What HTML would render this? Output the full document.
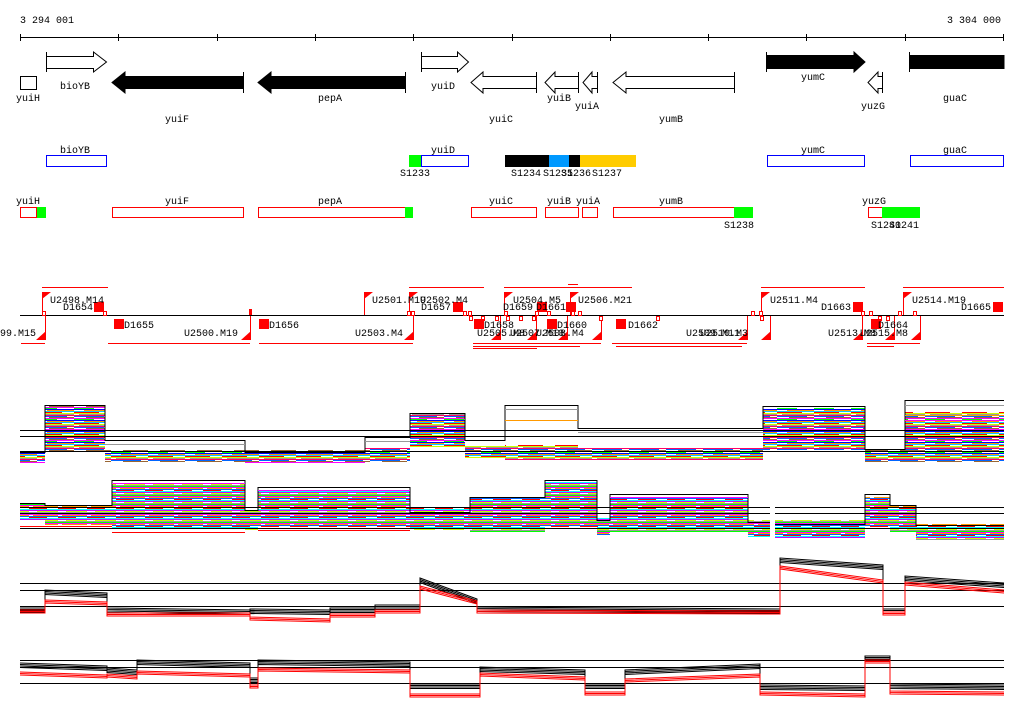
<!DOCTYPE html>
<html><head><meta charset="utf-8"><style>
html,body{margin:0;padding:0;background:#fff;}
svg{display:block;font-family:"Liberation Mono","DejaVu Sans Mono",monospace;font-size:10px;}
</style></head><body>
<svg width="1024" height="714" viewBox="0 0 1024 714" xmlns="http://www.w3.org/2000/svg">
<defs>
<pattern id="pa" patternUnits="userSpaceOnUse" width="37" height="11">
<rect width="37" height="11" fill="#fff"/>
<path d="M0 0.5H37" stroke="#f0f"/><path d="M0 1.5H20" stroke="#0f0"/><path d="M0 2.5H37" stroke="#00f"/>
<path d="M10 3.5H37" stroke="#f90"/><path d="M0 4.5H37" stroke="#0cf"/><path d="M0 5.5H25" stroke="#f00"/>
<path d="M0 6.5H37" stroke="#cf0"/><path d="M5 7.5H37" stroke="#999"/><path d="M0 8.5H37" stroke="#f06"/>
<path d="M0 9.5H30" stroke="#06f"/><path d="M12 10.5H37" stroke="#963"/>
</pattern>
<pattern id="pb" patternUnits="userSpaceOnUse" width="29" height="9">
<rect width="29" height="9" fill="#fff"/>
<path d="M0 0.5H29" stroke="#0f0"/><path d="M0 1.5H29" stroke="#f0f"/><path d="M4 2.5H29" stroke="#f90"/>
<path d="M0 3.5H29" stroke="#06f"/><path d="M0 4.5H18" stroke="#f00"/><path d="M0 5.5H29" stroke="#0ff"/>
<path d="M0 6.5H29" stroke="#c0f"/><path d="M8 7.5H29" stroke="#cf0"/><path d="M0 8.5H29" stroke="#999"/>
</pattern>
</defs>
<rect width="1024" height="714" fill="#fff"/>
<text x="20" y="23">3 294 001</text>
<text x="1001" y="23" text-anchor="end">3 304 000</text>
<g stroke="#000" stroke-width="1">
<line x1="20" y1="37.5" x2="1004" y2="37.5"/>
<line x1="20.5" y1="34" x2="20.5" y2="41"/><line x1="118.5" y1="34" x2="118.5" y2="41"/><line x1="217.5" y1="34" x2="217.5" y2="41"/><line x1="315.5" y1="34" x2="315.5" y2="41"/><line x1="413.5" y1="34" x2="413.5" y2="41"/><line x1="512.5" y1="34" x2="512.5" y2="41"/><line x1="610.5" y1="34" x2="610.5" y2="41"/><line x1="708.5" y1="34" x2="708.5" y2="41"/><line x1="806.5" y1="34" x2="806.5" y2="41"/><line x1="905.5" y1="34" x2="905.5" y2="41"/><line x1="1003.5" y1="34" x2="1003.5" y2="41"/>
</g>
<g stroke="#000" stroke-width="1">
<rect x="20.5" y="76.5" width="16" height="13" fill="#fff"/>
<path d="M46.5 52V72 M46.5 56.5H93.5V52L106.5 62L93.5 72V68.5H46.5" fill="#fff"/>
<path d="M243.5 72V93 M243.5 76.5H125V72L112 82.5L125 93V88.5H243.5Z" fill="#000"/>
<path d="M405.5 72V93 M405.5 76.5H271V72L258 82.5L271 93V88.5H405.5Z" fill="#000"/>
<path d="M421.5 52V72 M421.5 56.5H457.5V52L468.5 62L457.5 72V68.5H421.5" fill="#fff"/>
<path d="M536.5 72V93 M536.5 76.5H483V72L471 82.5L483 93V88.5H536.5" fill="#fff"/>
<path d="M578.5 72V93 M578.5 76.5H555V72L545 82.5L555 93V88.5H578.5" fill="#fff"/>
<path d="M597.5 72V93 M597.5 76.5H592V72L583 82.5L592 93V88.5H597.5" fill="#fff"/>
<path d="M734.5 72V93 M734.5 76.5H626V72L613 82.5L626 93V88.5H734.5" fill="#fff"/>
<path d="M766.5 52V72 M766.5 55.5H854V52L865 62L854 72V68.5H766.5Z" fill="#000"/>
<path d="M882.5 72V93 M882.5 76.5H878V72L868 82.5L878 93V88.5H882.5" fill="#fff"/>
<path d="M909.5 52V72 M909.5 55.5H1004V68.5H909.5Z" fill="#000"/>
</g>
<text x="16" y="101">yuiH</text><text x="60" y="89">bioYB</text><text x="165" y="122">yuiF</text>
<text x="318" y="101">pepA</text><text x="431" y="89">yuiD</text><text x="489" y="122">yuiC</text>
<text x="547" y="101">yuiB</text><text x="575" y="109">yuiA</text><text x="659" y="122">yumB</text>
<text x="801" y="80">yumC</text><text x="861" y="109">yuzG</text><text x="943" y="101">guaC</text>
<text x="60" y="153">bioYB</text><text x="431" y="153">yuiD</text><text x="801" y="153">yumC</text><text x="943" y="153">guaC</text>
<g stroke="#00f" fill="#fff"><rect x="46.5" y="155.5" width="60" height="11"/><rect x="421.5" y="155.5" width="47" height="11"/><rect x="767.5" y="155.5" width="97" height="11"/><rect x="910.5" y="155.5" width="93" height="11"/></g>
<rect x="409" y="155" width="12" height="12" fill="#0f0"/>
<rect x="505" y="155" width="44" height="12" fill="#000"/><rect x="549" y="155" width="20" height="12" fill="#09f"/><rect x="569" y="155" width="11" height="12" fill="#000"/><rect x="580" y="155" width="56" height="12" fill="#fc0"/>
<text x="400" y="176">S1233</text><text x="511" y="176">S1234</text><text x="543" y="176">S1235</text><text x="561" y="176">S1236</text><text x="592" y="176">S1237</text>
<text x="16" y="204">yuiH</text><text x="165" y="204">yuiF</text><text x="318" y="204">pepA</text><text x="489" y="204">yuiC</text><text x="547" y="204">yuiB</text><text x="576" y="204">yuiA</text><text x="659" y="204">yumB</text><text x="862" y="204">yuzG</text>
<g stroke="#f00" fill="#fff"><rect x="20.5" y="207.5" width="16" height="10"/><rect x="112.5" y="207.5" width="131" height="10"/><rect x="258.5" y="207.5" width="147" height="10"/><rect x="471.5" y="207.5" width="65" height="10"/><rect x="545.5" y="207.5" width="33" height="10"/><rect x="582.5" y="207.5" width="15" height="10"/><rect x="613.5" y="207.5" width="121" height="10"/><rect x="868.5" y="207.5" width="14" height="10"/></g>
<g fill="#0f0"><rect x="37" y="207" width="9" height="11"/><rect x="405" y="207" width="8" height="11"/><rect x="734" y="207" width="19" height="11"/><rect x="882" y="207" width="38" height="11"/></g>
<text x="724" y="228">S1238</text><text x="871" y="228">S1240</text><text x="889" y="228">S1241</text>

<!-- features -->
<line x1="20" y1="315.5" x2="1004" y2="315.5" stroke="#000"/>
<g stroke="#f00" fill="none">
<path d="M42.5 292V315M364.5 292V315M409.5 292V315M504.5 292V315M570.5 292V315M761.5 292V315M903.5 292V315"/>
<path d="M45.5 316V340M250.5 316V340M413.5 316V340M500.5 316V340M536.5 316V340M567.5 316V340M601.5 316V340M747.5 316V340M770.5 316V340M862.5 316V340M894.5 316V340M920.5 316V340"/>
<path d="M42 287.5H108M409 287.5H484M504 287.5H632M568 284.5H578M761 287.5H865M903 287.5H1004"/>
<path d="M21 343.5H45M108 343.5H250M259 343.5H413M473 343.5H580M473 346.5H580M473 348.5H537M540 343.5H601M612 343.5H747M616 346.5H742M867 343.5H894M867 346.5H894M870 343.5H920"/>
<g fill="#fff">
<rect x="42.5" y="311.5" width="3" height="4"/><rect x="103.5" y="311.5" width="3" height="4"/><rect x="407.5" y="311.5" width="3" height="4"/><rect x="411.5" y="311.5" width="3" height="4"/><rect x="463.5" y="311.5" width="3" height="4"/><rect x="468.5" y="311.5" width="3" height="4"/><rect x="504.5" y="311.5" width="3" height="4"/><rect x="535.5" y="311.5" width="3" height="4"/><rect x="547.5" y="311.5" width="3" height="4"/><rect x="571.5" y="311.5" width="3" height="4"/><rect x="578.5" y="311.5" width="3" height="4"/><rect x="751.5" y="311.5" width="3" height="4"/><rect x="759.5" y="311.5" width="3" height="4"/><rect x="861.5" y="311.5" width="3" height="4"/><rect x="869.5" y="311.5" width="3" height="4"/><rect x="898.5" y="311.5" width="3" height="4"/><rect x="913.5" y="311.5" width="3" height="4"/>
<rect x="469.5" y="316.5" width="3" height="4"/><rect x="481.5" y="316.5" width="3" height="4"/><rect x="495.5" y="316.5" width="3" height="4"/><rect x="506.5" y="316.5" width="3" height="4"/><rect x="519.5" y="316.5" width="3" height="4"/><rect x="532.5" y="316.5" width="3" height="4"/><rect x="599.5" y="316.5" width="3" height="4"/><rect x="656.5" y="316.5" width="3" height="4"/><rect x="760.5" y="316.5" width="3" height="4"/><rect x="878.5" y="316.5" width="3" height="4"/><rect x="886.5" y="316.5" width="3" height="4"/>
</g>
</g>
<g fill="#f00">
<path d="M42 292h9l-9 7zM364 292h9l-9 7zM409 292h9l-9 7zM504 292h9l-9 7zM570 292h9l-9 7zM761 292h9l-9 7zM903 292h9l-9 7z"/>
<path d="M46 340h-10l10-9zM251 340h-10l10-9zM414 340h-10l10-9zM501 340h-10l10-9zM537 340h-10l10-9zM568 340h-10l10-9zM602 340h-10l10-9zM748 340h-10l10-9zM771 340h-10l10-9zM863 340h-10l10-9zM895 340h-10l10-9zM921 340h-10l10-9z"/>
<rect x="94" y="302" width="10" height="10"/><rect x="453" y="302" width="10" height="10"/><rect x="537" y="302" width="10" height="10"/><rect x="566" y="302" width="10" height="10"/><rect x="853" y="302" width="10" height="10"/><rect x="993" y="302" width="10" height="10"/>
<rect x="114" y="319" width="10" height="10"/><rect x="259" y="319" width="10" height="10"/><rect x="474" y="319" width="10" height="10"/><rect x="547" y="319" width="10" height="10"/><rect x="616" y="319" width="10" height="10"/><rect x="871" y="319" width="10" height="10"/>
<rect x="249" y="309" width="3" height="6"/>
</g>
<text x="50" y="303">U2498.M14</text><text x="63" y="310">D1654</text>
<text x="372" y="303">U2501.M19</text><text x="420" y="303">U2502.M4</text><text x="421" y="310">D1657</text>
<text x="513" y="303">U2504.M5</text><text x="503" y="310">D1659</text><text x="536" y="310">D1661</text><text x="578" y="303">U2506.M21</text>
<text x="770" y="303">U2511.M4</text><text x="821" y="310">D1663</text><text x="912" y="303">U2514.M19</text><text x="961" y="310">D1665</text>
<text x="0" y="336">99.M15</text><text x="124" y="328">D1655</text><text x="184" y="336">U2500.M19</text>
<text x="269" y="328">D1656</text><text x="355" y="336">U2503.M4</text>
<text x="484" y="328">D1658</text><text x="477" y="336">U2505.M8</text><text x="510" y="336">U2507.M10</text><text x="536" y="336">U2508.M4</text><text x="557" y="328">D1660</text>
<text x="628" y="328">D1662</text><text x="686" y="336">U2509.M11</text><text x="700" y="336">U2510.M3</text>
<text x="828" y="336">U2513.M8</text><text x="860" y="336">U2515.M8</text><text x="878" y="328">D1664</text>

<!-- panel 1 -->
<g fill="url(#pa)">
<rect x="20" y="452" width="25" height="11"/><rect x="45" y="406" width="60" height="46"/><rect x="105" y="450" width="140" height="12"/><rect x="245" y="450" width="120" height="13"/><rect x="365" y="448" width="45" height="14"/><rect x="410" y="414" width="55" height="33"/><rect x="465" y="446" width="40" height="12"/><rect x="505" y="445" width="73" height="15"/><rect x="578" y="448" width="185" height="12"/><rect x="763" y="408" width="102" height="42"/><rect x="865" y="450" width="40" height="12"/><rect x="905" y="412" width="99" height="50"/>
</g>
<g fill="none">
<path d="M20 452.5H45V405.5H105V440.5H245V452.5H365V437.5H410V413.5H465V440.5H505V405.5H578V428.5H763V406.5H865V449.5H905V400.5H1004" stroke="#000"/>
<path d="M105 444.5H245M505 409.5H578M578 432.5H763M905 405.5H1004M365 441.5H410" stroke="#999"/>
<path d="M505 420.5H578M905 415.5H1004" stroke="#f90"/>
<path d="M905 420.5H1004" stroke="#f0f"/>
</g>
<!-- panel 2 -->
<g fill="url(#pb)">
<rect x="20" y="503" width="25" height="17"/><rect x="45" y="505" width="67" height="20"/><rect x="112" y="484" width="133" height="44"/><rect x="245" y="510" width="13" height="20"/><rect x="258" y="490" width="152" height="37"/><rect x="410" y="508" width="60" height="22"/><rect x="470" y="497" width="75" height="35"/><rect x="545" y="482" width="52" height="45"/><rect x="597" y="518" width="13" height="17"/><rect x="610" y="497" width="138" height="35"/><rect x="748" y="520" width="22" height="17"/><rect x="775" y="520" width="90" height="18"/><rect x="865" y="497" width="25" height="30"/><rect x="890" y="505" width="26" height="27"/><rect x="916" y="524" width="88" height="16"/>
</g>
<g fill="none">
<path d="M20 503.5H45V505.5H112V480.5H245V510.5H258V487.5H410V512.5H470V497.5H545V480.5H597V520.5H610V494.5H748V522.5H770" stroke="#000"/>
<path d="M775 524.5H865V494.5H890V505.5H916V525.5H1004" stroke="#000"/>
<path d="M112 483.5H245M258 490.5H410M610 497.5H748" stroke="#f0f"/>
<path d="M20 526.5H112M112 532.5H245M258 530.5H410" stroke="#f00"/>
</g>
<!-- thresholds -->
<g stroke="#000">
<path d="M20 430.5H1004M20 436.5H1004M20 451.5H1004"/>
<path d="M20 507.5H770M775 507.5H1004M20 513.5H770M775 513.5H1004M20 528.5H770M775 528.5H1004"/>
<path d="M20 583.5H1004M20 590.5H1004M20 606.5H1004"/>
<path d="M20 660.5H1004M20 667.5H1004M20 683.5H1004"/>
</g>
<!-- panel 3 & 4 -->
<g fill="none">
<path id="b3" stroke="#000" d="M20 608H45V590L107 593V608L250 610V609L330 610V608H375V605H420V578L477 599V607L780 609V558L883 565V609H905V576L1004 583"/>
<use href="#b3" transform="translate(0,1.5)"/><use href="#b3" transform="translate(0,3)"/><use href="#b3" transform="translate(0,4.5)"/>
<path id="r3" stroke="#f00" d="M20 610H45V600L107 602V613H250V617L330 619V614H375V610H420V586L477 601V610L780 611V566L883 580V612H905V582L1004 590"/>
<use href="#r3" transform="translate(0,1.5)"/><use href="#r3" transform="translate(0,3)"/>
<path id="b4" stroke="#000" d="M20 663L107 666V668L137 670V660L250 663V678H258V660L410 662V684H480V667L585 670V684H625V670L760 664V685L865 686V656H890V684L1004 685"/>
<use href="#b4" transform="translate(0,1.5)"/><use href="#b4" transform="translate(0,3)"/><use href="#b4" transform="translate(0,4.5)"/>
<path id="r4" stroke="#f00" d="M20 672L107 675V674L137 676V671L250 674V685H258V668L410 670V694H480V673L585 677V692H625V679L760 674V692L865 694V660H890V691L1004 692"/>
<use href="#r4" transform="translate(0,1.5)"/><use href="#r4" transform="translate(0,3)"/>
</g>
</svg>
</body></html>
